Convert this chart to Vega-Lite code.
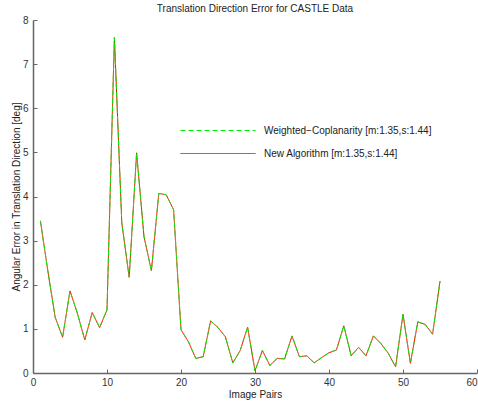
{
  "$schema": "https://vega.github.io/schema/vega-lite/v6.json",
  "autosize": "none",
  "width": 444,
  "height": 353,
  "padding": {"left": 33, "top": 20, "right": 1, "bottom": 32},
  "background": "white",
  "title": {"text": "Translation Direction Error for CASTLE Data", "font": "Liberation Sans", "fontSize": 10, "fontWeight": "normal", "color": "#222", "offset": 1, "anchor": "middle"},
  "config": {"view": {"stroke": null}, "font": "Liberation Sans"},
  "data": {"values": [
      {"pair": 1, "wc": 3.45, "na": 3.45}, {"pair": 2, "wc": 2.32, "na": 2.32}, {"pair": 3, "wc": 1.26, "na": 1.26}, {"pair": 4, "wc": 0.81, "na": 0.81}, {"pair": 5, "wc": 1.86, "na": 1.86},
      {"pair": 6, "wc": 1.35, "na": 1.35}, {"pair": 7, "wc": 0.75, "na": 0.75}, {"pair": 8, "wc": 1.37, "na": 1.37}, {"pair": 9, "wc": 1.03, "na": 1.03}, {"pair": 10, "wc": 1.43, "na": 1.43},
      {"pair": 11, "wc": 7.6, "na": 7.6}, {"pair": 12, "wc": 3.4, "na": 3.4}, {"pair": 13, "wc": 2.17, "na": 2.17}, {"pair": 14, "wc": 4.99, "na": 4.99}, {"pair": 15, "wc": 3.09, "na": 3.09},
      {"pair": 16, "wc": 2.32, "na": 2.32}, {"pair": 17, "wc": 4.07, "na": 4.07}, {"pair": 18, "wc": 4.04, "na": 4.04}, {"pair": 19, "wc": 3.7, "na": 3.7}, {"pair": 20, "wc": 0.98, "na": 0.98},
      {"pair": 21, "wc": 0.71, "na": 0.71}, {"pair": 22, "wc": 0.33, "na": 0.33}, {"pair": 23, "wc": 0.37, "na": 0.37}, {"pair": 24, "wc": 1.18, "na": 1.18}, {"pair": 25, "wc": 1.03, "na": 1.03},
      {"pair": 26, "wc": 0.82, "na": 0.82}, {"pair": 27, "wc": 0.23, "na": 0.23}, {"pair": 28, "wc": 0.51, "na": 0.51}, {"pair": 29, "wc": 1.04, "na": 1.04}, {"pair": 30, "wc": 0.05, "na": 0.05},
      {"pair": 31, "wc": 0.51, "na": 0.51}, {"pair": 32, "wc": 0.17, "na": 0.17}, {"pair": 33, "wc": 0.33, "na": 0.33}, {"pair": 34, "wc": 0.32, "na": 0.32}, {"pair": 35, "wc": 0.84, "na": 0.84},
      {"pair": 36, "wc": 0.37, "na": 0.37}, {"pair": 37, "wc": 0.39, "na": 0.39}, {"pair": 38, "wc": 0.23, "na": 0.23}, {"pair": 39, "wc": 0.35, "na": 0.35}, {"pair": 40, "wc": 0.46, "na": 0.46},
      {"pair": 41, "wc": 0.52, "na": 0.52}, {"pair": 42, "wc": 1.07, "na": 1.07}, {"pair": 43, "wc": 0.39, "na": 0.39}, {"pair": 44, "wc": 0.58, "na": 0.58}, {"pair": 45, "wc": 0.39, "na": 0.39},
      {"pair": 46, "wc": 0.84, "na": 0.84}, {"pair": 47, "wc": 0.67, "na": 0.67}, {"pair": 48, "wc": 0.45, "na": 0.45}, {"pair": 49, "wc": 0.14, "na": 0.14}, {"pair": 50, "wc": 1.33, "na": 1.33},
      {"pair": 51, "wc": 0.22, "na": 0.22}, {"pair": 52, "wc": 1.16, "na": 1.16}, {"pair": 53, "wc": 1.1, "na": 1.1}, {"pair": 54, "wc": 0.88, "na": 0.88}, {"pair": 55, "wc": 2.08, "na": 2.08}
  ]},
  "transform": [{"fold": ["wc", "na"], "as": ["series", "v"]}],
  "encoding": {
    "x": {"field": "pair", "type": "quantitative", "scale": {"domain": [0, 60], "nice": false, "zero": false},
      "axis": {"title": "Image Pairs", "values": [0, 10, 20, 30, 40, 50, 60], "grid": false, "domainColor": "#666", "domainWidth": 1.5, "tickColor": "#666", "tickSize": -4, "labelPadding": 8, "labelFontSize": 10, "labelColor": "#333", "labelFont": "Liberation Sans", "titleFont": "Liberation Sans", "titleFontSize": 10, "titleFontWeight": "normal", "titleColor": "#222", "titlePadding": 2, "labelFlush": false,
        "labelAlign": {"condition": {"test": "datum.value == 60", "value": "right"}, "value": "center"}}},
    "y": {"field": "v", "type": "quantitative", "scale": {"domain": [0, 8], "nice": false},
      "axis": {"title": "Angular Error in Translation Direction [deg]", "values": [0, 1, 2, 3, 4, 5, 6, 7, 8], "grid": false, "domainColor": "#666", "domainWidth": 1.5, "tickColor": "#666", "tickSize": -4, "labelPadding": 9, "labelFontSize": 10, "labelColor": "#333", "labelFont": "Liberation Sans", "titleFont": "Liberation Sans", "titleFontSize": 10, "titleFontWeight": "normal", "titleColor": "#222", "titlePadding": 1, "labelFlush": false}},
    "color": {"field": "series", "type": "nominal", "scale": {"domain": ["wc", "na"], "range": ["#00ee00", "#ff0000"]},
      "legend": {"orient": "none", "legendX": 147, "legendY": 104, "title": null, "symbolType": "stroke", "symbolSize": 5625, "symbolStrokeWidth": 1, "labelFont": "Liberation Sans", "labelFontSize": 10, "labelColor": "#222", "clipHeight": 13, "rowPadding": 10, "labelOffset": 8, "labelLimit": 400,
        "labelExpr": "datum.value == 'wc' ? 'Weighted\u2212Coplanarity [m:1.35,s:1.44]' : 'New Algorithm [m:1.35,s:1.44]'",
        "encode": {"symbols": {"update": {"stroke": {"signal": "datum.value == 'na' ? '#ff0000' : '#00ee00'"}, "strokeDash": {"signal": "datum.value == 'na' ? [1, 0] : [5, 3]"}}}}}},
    "strokeDash": {"field": "series", "type": "nominal", "scale": {"domain": ["wc", "na"], "range": [[5, 3], [1, 0]]}, "legend": null}
  },
  "layer": [
    {"transform": [{"filter": "datum.series == 'na'"}], "mark": {"type": "line", "strokeWidth": 1}},
    {"transform": [{"filter": "datum.series == 'wc'"}], "mark": {"type": "line", "strokeWidth": 1}}
  ]
}
